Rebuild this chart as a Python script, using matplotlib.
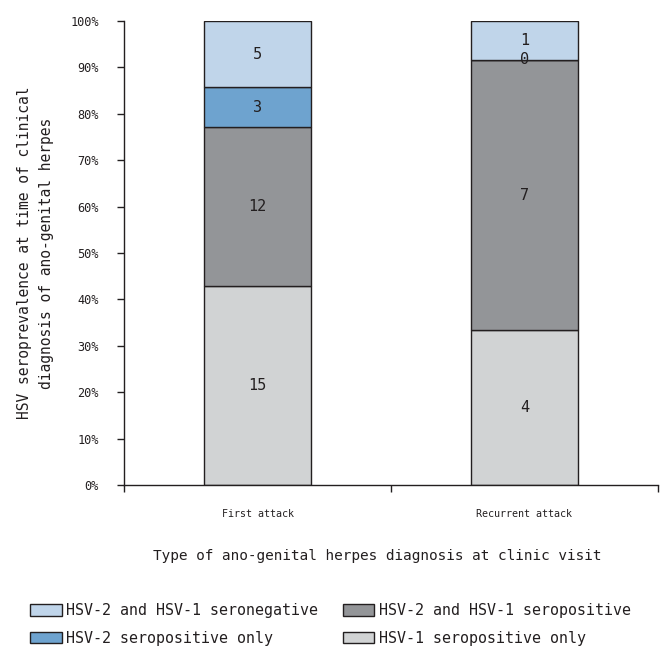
import matplotlib
matplotlib.use("Agg")
import matplotlib.pyplot as plt
from matplotlib.patches import Patch
import numpy as np

categories = ["First attack", "Recurrent attack"]
# counts per serostatus group, stacked bottom to top
hsv1_only = [15, 4]
both_pos = [12, 7]
hsv2_only = [3, 0]
both_neg = [5, 1]

series = [
    ("HSV-1 seropositive only", hsv1_only, "#d1d3d4"),
    ("HSV-2 and HSV-1 seropositive", both_pos, "#939598"),
    ("HSV-2 seropositive only", hsv2_only, "#6ea3cf"),
    ("HSV-2 and HSV-1 seronegative", both_neg, "#c0d5ea"),
]
ytick_labels = ["0%", "10%", "20%", "30%", "40%", "50%", "60%", "70%", "80%", "90%", "100%"]

plt.rcParams["font.family"] = ["DejaVu Sans Mono"]
edge = "#231f20"
txt = "#231f20"

fig = plt.figure(figsize=(6.6, 6.53), dpi=100)
ax = fig.add_axes([124 / 660, 1 - 485 / 653, (658 - 124) / 660, (485 - 21) / 653])

totals = np.sum([s[1] for s in series], axis=0).astype(float)
x = np.arange(len(categories)) + 0.5
bottom = np.zeros(len(categories))
handles = {}
for name, vals, col in series:
    frac = np.array(vals) / totals * 100
    ax.bar(x, frac, width=0.4, bottom=bottom, color=col, edgecolor=edge, linewidth=1.0)
    for xi, b, f, v in zip(x, bottom, frac, vals):
        ax.text(xi, b + f / 2, str(v), ha="center", va="center", fontsize=11, color=txt)
    handles[name] = Patch(facecolor=col, edgecolor=edge, linewidth=1.0)
    bottom += frac

ax.set_xlim(0, 2)
ax.set_ylim(0, 100)
ax.set_yticks(np.arange(0, 101, 10))
ax.set_yticklabels(ytick_labels)
ax.set_xticks([0, 1, 2])
ax.set_xticklabels([])
ax.set_xticks(x, minor=True)
ax.set_xticklabels(categories, minor=True)

for side in ["top", "right"]:
    ax.spines[side].set_visible(False)
for side in ["left", "bottom"]:
    ax.spines[side].set_color(edge)
    ax.spines[side].set_linewidth(1.0)

ax.tick_params(axis="y", direction="out", length=5, width=1.0, color=edge,
               labelsize=8.6, labelcolor=txt, pad=13)
ax.tick_params(axis="x", which="major", direction="out", length=5, width=1.0, color=edge)
ax.tick_params(axis="x", which="minor", length=0, labelsize=7.2, labelcolor=txt, pad=17)

ax.set_ylabel("HSV seroprevalence at time of clinical\ndiagnosis of ano-genital herpes",
              fontsize=10.5, color=txt, labelpad=12, linespacing=1.55)
fig.text(377 / 660, 1 - 556 / 653, "Type of ano-genital herpes diagnosis at clinic visit",
         ha="center", va="center", fontsize=10.4, color=txt)

order = ["HSV-2 and HSV-1 seronegative", "HSV-2 seropositive only",
         "HSV-2 and HSV-1 seropositive", "HSV-1 seropositive only"]
fig.legend([handles[n] for n in order], order, ncol=2, frameon=False,
           loc="upper left", bbox_to_anchor=(30 / 660, 1 - 603 / 653),
           borderaxespad=0, borderpad=0, fontsize=10.8,
           handlelength=2.1, handleheight=0.8, handletextpad=0.3,
           columnspacing=1.65, labelspacing=0.85, labelcolor=txt)

fig.savefig("out.png", dpi=100)
